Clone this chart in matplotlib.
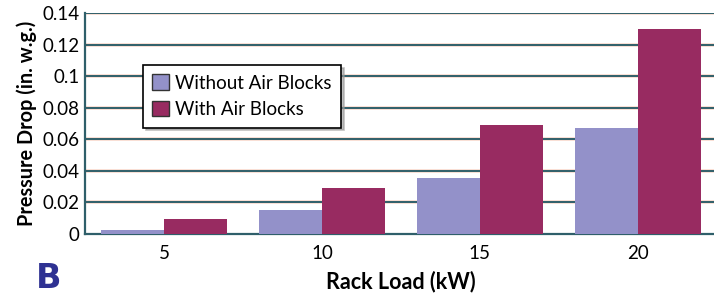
import matplotlib
matplotlib.use("Agg")
import matplotlib.pyplot as plt
import numpy as np

plt.rcParams['font.family'] = ['Lato', 'DejaVu Sans']

categories = ["5", "10", "15", "20"]
without_blocks = [0.0025, 0.015, 0.0355, 0.067]
with_blocks = [0.0095, 0.029, 0.069, 0.13]
yticks = [0, 0.02, 0.04, 0.06, 0.08, 0.1, 0.12, 0.14]
ytick_labels = ["0", "0.02", "0.04", "0.06", "0.08", "0.1", "0.12", "0.14"]

c_without = "#9391c9"
c_with = "#982b61"
grid_c = "#2f5f6a"

fig = plt.figure(figsize=(7.14, 2.95), dpi=100)
ax = fig.add_axes([0.119, 0.207, 0.885, 0.749])

x = np.arange(len(categories))
w = 0.4
ax.bar(x - w / 2, without_blocks, w, color=c_without, label="Without Air Blocks", zorder=3)
ax.bar(x + w / 2, with_blocks, w, color=c_with, label="With Air Blocks", zorder=3)

ax.set_xlim(-0.5, len(categories) - 0.5)
ax.set_ylim(0, 0.14)
ax.set_yticks(yticks)
ax.set_yticklabels(ytick_labels, fontsize=13.5)
ax.set_xticks(x)
ax.set_xticklabels(categories, fontsize=13.5)
ax.tick_params(axis='x', length=0, pad=8)
ax.tick_params(axis='y', length=0, pad=4)

for yv in yticks[1:]:
    ax.axhline(yv, color="#f8d8cc", lw=2.6, zorder=1)
    ax.axhline(yv, color=grid_c, lw=1.4, zorder=2)

for s in ["top", "right"]:
    ax.spines[s].set_visible(False)
ax.spines["left"].set_color(grid_c)
ax.spines["left"].set_linewidth(1.6)
ax.spines["bottom"].set_color(grid_c)
ax.spines["bottom"].set_linewidth(1.6)

ax.set_ylabel("Pressure Drop (in. w.g.)", fontsize=14.3, fontweight="bold", labelpad=4)
ax.set_xlabel("Rack Load (kW)", fontsize=15.5, fontweight="bold", labelpad=6)

leg = ax.legend(loc="upper left", bbox_to_anchor=(0.092, 0.765), frameon=True,
                fancybox=False, shadow={'color': '#999999', 'alpha': 0.6},
                fontsize=13.5, handlelength=0.9, handleheight=0.9, handletextpad=0.3,
                borderpad=0.5, labelspacing=0.5, borderaxespad=0)
leg.get_frame().set_edgecolor("black")
leg.get_frame().set_linewidth(1.2)
for p in leg.get_patches():
    p.set_edgecolor("#333333")
    p.set_linewidth(1.0)

fig.text(0.05, 0.025, "B", fontsize=24, fontweight="bold", color="#2e3192",
         family=['DejaVu Sans'])

fig.savefig("out.png", dpi=100)
